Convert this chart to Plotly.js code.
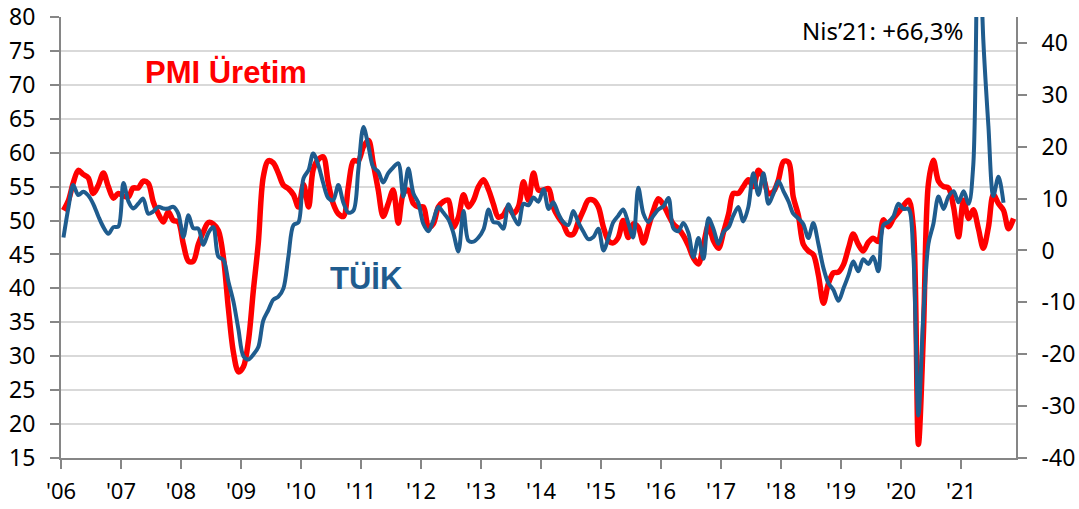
<!DOCTYPE html>
<html><head><meta charset="utf-8">
<script src="https://cdn.plot.ly/plotly-3.0.1.min.js"></script>
<style>html,body{margin:0;padding:0;background:#fff}#chart{width:1079px;height:509px}</style>
</head><body><div id="chart"></div>
<script>
// Monthly series, Jan 2006 onwards
const startYear = 2006;

// PMI Üretim (output index, left axis), Jan 2006 - Nov 2021
const pmiUretim = [
  51.5, 53.0, 55.5, 57.4, 56.8, 56.3, 54.0, 55.2, 57.0, 55.0, 53.3, 54.0,
  53.6, 53.5, 54.8, 54.8, 55.8, 55.5, 52.8, 51.0, 49.8, 51.3, 50.0, 49.8,
  46.5, 44.0, 44.0, 46.5, 48.3, 49.7, 49.5, 48.5, 44.5, 37.0, 30.5, 27.7,
  28.5, 32.5, 39.5, 46.7, 56.4, 58.8, 58.5, 57.0, 55.2, 54.7, 53.8, 52.0,
  55.3, 52.0, 57.5, 59.0, 59.4, 55.5, 52.5, 51.0, 50.6, 55.0, 58.8, 58.8,
  60.9, 61.8, 58.5, 54.5, 50.6, 52.5, 54.5, 49.6, 54.0, 54.5, 52.5, 52.0,
  52.0, 49.0, 49.5, 52.0, 52.8, 53.0, 49.0, 50.5, 53.8, 52.0, 53.0, 55.0,
  56.0, 54.5, 52.5, 50.5, 50.8, 52.0, 51.0, 52.0, 55.7, 53.0, 57.0, 54.5,
  54.5, 54.7, 52.0, 50.5, 49.5, 48.0, 48.0, 49.8, 51.5, 53.0, 53.0, 52.0,
  49.0, 47.0, 46.7, 47.5, 50.0, 47.5, 49.5, 49.0, 46.7, 49.0, 51.5, 53.2,
  52.3, 50.8, 49.5, 48.8, 47.8, 46.3, 44.5, 43.6, 46.5, 49.3, 47.0, 45.9,
  48.3, 51.0, 54.0, 54.0, 55.0, 56.0, 55.0, 57.4, 56.2, 54.0, 54.3, 56.0,
  58.7, 58.6, 53.5, 50.8, 46.5, 45.5, 45.0, 42.0, 37.8, 40.7, 42.3, 42.4,
  43.5, 46.0, 48.0, 46.5, 45.5, 46.8, 47.4, 46.9, 50.1, 49.1, 50.3, 51.2,
  52.2, 53.0, 49.0, 17.0, 33.0, 55.5, 58.9, 55.8, 55.0, 54.8, 52.0, 47.6,
  53.0, 50.3, 51.6, 48.8, 45.9, 49.0, 53.8, 52.5, 51.5, 48.8, 50.3
];

// TÜİK sanayi üretimi, yıllık % değişim (right axis), Jan 2006 - Sep 2021
const tuikSanayi = [
  2.5, 8.4, 12.6, 10.7, 11.3, 10.6, 9.0, 6.6, 4.5, 3.2, 4.5, 4.6,
  13.0, 9.4, 8.1, 9.0, 10.0, 7.1, 7.5, 8.4, 8.1, 8.1, 8.4, 7.1,
  2.6, 6.8, 4.3, 4.2, 1.1, 3.4, 4.5, -1.2, -1.8, -6.0, -9.9, -15.2,
  -20.4, -21.0, -20.1, -18.6, -13.5, -11.5, -9.5, -8.9, -7.3, -1.2, 4.9, 5.4,
  13.9, 15.5, 18.7, 16.5, 13.0, 10.1, 9.7, 12.6, 9.2, 7.3, 7.7, 15.6,
  23.8, 20.0, 16.1, 15.2, 13.1, 14.9, 16.0, 16.8, 10.4, 15.8, 11.0, 9.2,
  5.1, 3.7, 5.8, 8.4, 7.3, 6.0, 3.4, -0.2, 7.6, 1.9, 1.7, 2.5,
  4.1, 7.9, 5.5, 5.3, 4.2, 8.9, 6.6, 5.0, 9.0, 8.7, 10.2, 9.4,
  11.8, 8.0, 9.3, 7.1, 5.5, 4.9, 7.6, 5.4, 3.6, 2.2, 2.6, 4.2,
  0.0, 2.5, 5.4, 6.7, 7.9, 5.3, 2.5, 12.1, 7.1, 5.5, 6.7, 7.9,
  8.5, 10.1, 4.3, 3.7, 5.3, 3.4, -1.3, 2.4, -1.6, 6.2, 4.1, 1.3,
  3.6, 4.5, 6.7, 8.4, 5.6, 8.4, 14.9, 10.7, 14.9, 9.0, 11.0, 13.4,
  11.4, 9.4, 7.1, 6.2, 5.1, 2.4, 5.3, 1.3, -3.4, -6.3, -7.6, -9.7,
  -7.3, -4.7, -2.1, -4.0, -1.7, -2.6, -1.2, -4.0, 4.9, 5.5, 6.6, 9.0,
  8.0, 8.0, -0.8, -31.8, -12.5, 1.3, 5.1, 10.4, 8.0, 10.4, 11.4, 9.3,
  11.4, 9.0, 16.5, 66.3, 40.6, 24.0, 10.5, 14.2, 9.2
];

const yearLabels = ["'06","'07","'08","'09","'10","'11","'12","'13","'14","'15","'16","'17","'18","'19","'20","'21"];
const leftTicks = [15,20,25,30,35,40,45,50,55,60,65,70,75,80];
const rightTicks = [-40,-30,-20,-10,0,10,20,30,40];
const rightTickText = ["-40","-30","-20","-10","0","10","20","30","40"];

function monthDate(i) {
  const y = startYear + Math.floor(i / 12);
  const m = (i % 12) + 1;
  return y + '-' + String(m).padStart(2, '0') + '-16';
}
const pmiX = pmiUretim.map((_, i) => monthDate(i));
const tuikX = tuikSanayi.map((_, i) => monthDate(i));
const yearTickVals = yearLabels.map((_, k) => (startYear + k) + '-01-01');

const tickFont = {family: 'Noto Sans, Open Sans, sans-serif', size: 23, color: '#000'};
const xTickFont = {family: 'Noto Sans, Open Sans, sans-serif', size: 22, color: '#000'};
const axisGrey = '#868686';

const traces = [
  {x: pmiX, y: pmiUretim, type: 'scatter', mode: 'lines', name: 'PMI Üretim',
   line: {color: '#FF0000', width: 5.5, shape: 'spline', smoothing: 0.9}, yaxis: 'y', hoverinfo: 'skip'},
  {x: tuikX, y: tuikSanayi, type: 'scatter', mode: 'lines', name: 'TÜİK',
   line: {color: '#1F5C8E', width: 4, shape: 'spline', smoothing: 0.9}, yaxis: 'y2', hoverinfo: 'skip'}
];

const layout = {
  width: 1079, height: 509,
  margin: {l: 61, r: 63, t: 17, b: 51},
  paper_bgcolor: '#fff', plot_bgcolor: '#fff',
  showlegend: false,
  xaxis: {
    type: 'date', range: ['2006-01-01', '2021-12-01'],
    tickmode: 'array', tickvals: yearTickVals, ticktext: yearLabels,
    ticks: 'outside', ticklen: 9, tickwidth: 2, tickcolor: axisGrey,
    showline: true, linecolor: axisGrey, linewidth: 2,
    showgrid: false, zeroline: false, tickfont: xTickFont, ticklabelstandoff: 4
  },
  yaxis: {
    range: [15, 80], tickmode: 'array', tickvals: leftTicks,
    ticks: 'outside', ticklen: 9, tickwidth: 2, tickcolor: axisGrey,
    showline: true, linecolor: axisGrey, linewidth: 2,
    showgrid: true, gridcolor: '#d9d9d9', gridwidth: 2, zeroline: false,
    tickfont: tickFont, ticklabelstandoff: 10
  },
  yaxis2: {
    overlaying: 'y', side: 'right', range: [-40, 45], tickmode: 'array',
    tickvals: rightTicks, ticktext: rightTickText,
    ticks: 'outside', ticklen: 9, tickwidth: 2, tickcolor: axisGrey,
    showline: true, linecolor: axisGrey, linewidth: 2,
    showgrid: false, zeroline: false, tickfont: tickFont, ticklabelstandoff: 10
  },
  annotations: [
    {xref: 'paper', yref: 'paper', x: 0.1728, y: 0.875, xanchor: 'center', yanchor: 'middle',
     text: '<b>PMI Üretim</b>', showarrow: false,
     font: {family: 'Liberation Sans, Arial, sans-serif', size: 31, color: '#FF0000'}},
    {xref: 'paper', yref: 'paper', x: 0.3194, y: 0.408, xanchor: 'center', yanchor: 'middle',
     text: '<b>TÜİK</b>', showarrow: false,
     font: {family: 'Liberation Sans, Arial, sans-serif', size: 31, color: '#1F5C8E'}},
    {xref: 'paper', yref: 'paper', x: 0.9476, y: 0.9705, xanchor: 'right', yanchor: 'middle',
     text: 'Nis\u201921: +66,3%', showarrow: false,
     font: {family: 'Noto Sans, Open Sans, sans-serif', size: 24, color: '#000'}}
  ]
};

Plotly.newPlot('chart', traces, layout, {staticPlot: true, displayModeBar: false});
</script>
</body></html>
